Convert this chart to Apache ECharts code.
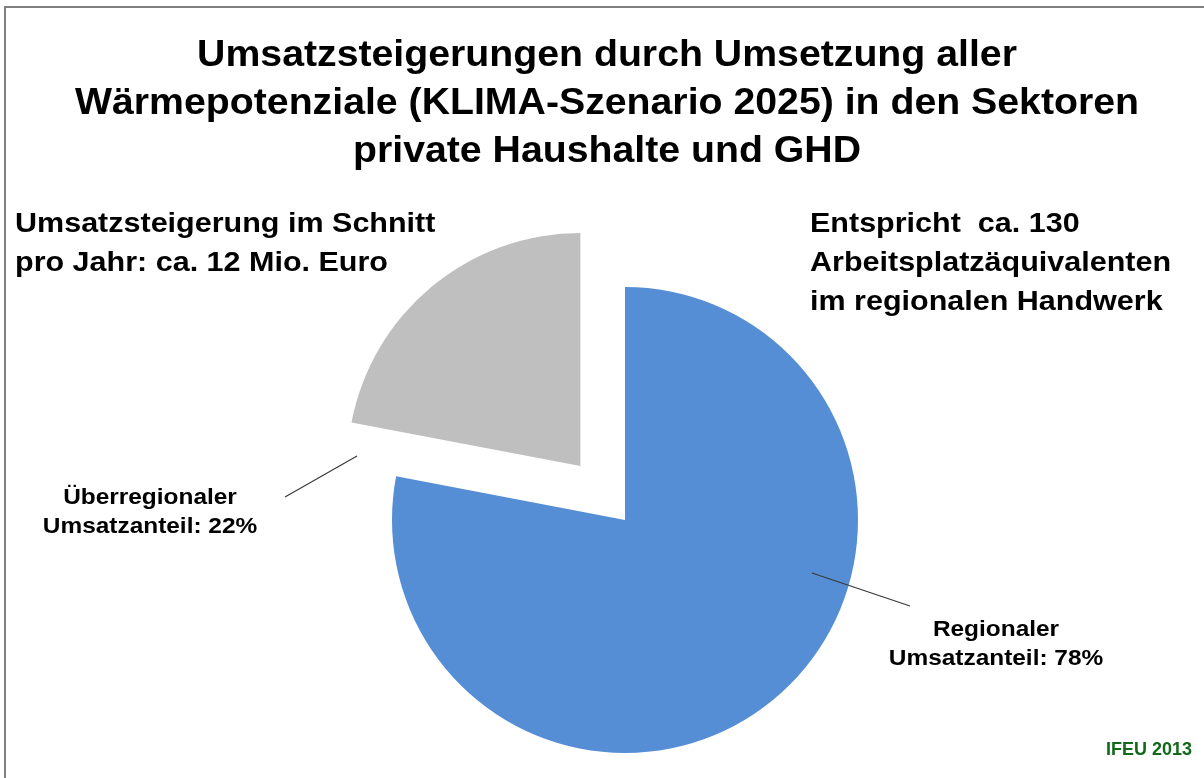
<!DOCTYPE html>
<html>
  <head>
    <meta charset="utf-8" />
    <title>Umsatzsteigerungen</title>
    <script src="https://cdn.jsdelivr.net/npm/echarts@6/dist/echarts.min.js"></script>
    <style>
      body { margin: 0; background: #fff; }
    </style>
  </head>
  <body>
    <div id="main" style="width: 1204px;height:778px;"></div>
    <script type="text/javascript">
      // Daten
      var sliceNames = ['Regionaler', 'Überregionaler'];
      var sliceValues = [78, 22];
      var sliceColors = ['#558ed5', '#bfbfbf'];
      var explodedSlice = [false, true];

      var titleLines = [
        'Umsatzsteigerungen durch Umsetzung aller',
        'Wärmepotenziale (KLIMA-Szenario 2025) in den Sektoren',
        'private Haushalte und GHD'
      ];
      var noteLeft = ['Umsatzsteigerung im Schnitt', 'pro Jahr: ca. 12 Mio. Euro'];
      var noteRight = ['Entspricht  ca. 130', 'Arbeitsplatzäquivalenten', 'im regionalen Handwerk'];
      var sourceText = 'IFEU 2013';

      // Label-Positionen (px, Mitte des Textblocks)
      var labelPos = [[996, 644], [150, 512]];
      // Führungslinien [x1, y1, x2, y2]
      var leaderLines = [[812, 573, 910, 606], [357, 456, 285, 497]];

      var font = "'Liberation Sans', Arial, sans-serif";
      var myChart = echarts.init(document.getElementById('main'));

      var pieData = sliceNames.map(function (n, i) {
        return {
          name: n,
          value: sliceValues[i],
          selected: explodedSlice[i],
          itemStyle: { color: sliceColors[i] }
        };
      });

      var graphics = [
        // Rahmen
        {
          type: 'rect',
          shape: { x: 5, y: 7, width: 1300, height: 900 },
          style: { fill: null, stroke: '#7f7f7f', lineWidth: 2 },
          silent: true
        },
        {
          type: 'text',
          x: 607, y: 104, scaleX: 1.09,
          style: {
            text: titleLines.join('\n'),
            font: 'bold 36px ' + font,
            lineHeight: 48,
            align: 'center',
            verticalAlign: 'middle',
            fill: '#000'
          }
        },
        {
          type: 'text',
          x: 15, y: 244, scaleX: 1.13,
          style: {
            text: noteLeft.join('\n'),
            font: 'bold 27px ' + font,
            lineHeight: 39,
            align: 'left',
            verticalAlign: 'middle',
            fill: '#000'
          }
        },
        {
          type: 'text',
          x: 810, y: 264, scaleX: 1.13,
          style: {
            text: noteRight.join('\n'),
            font: 'bold 27px ' + font,
            lineHeight: 39,
            align: 'left',
            verticalAlign: 'middle',
            fill: '#000'
          }
        },
        {
          type: 'text',
          x: 1192, y: 750,
          style: {
            text: sourceText,
            font: 'bold 18px ' + font,
            align: 'right',
            verticalAlign: 'middle',
            fill: '#12691a'
          }
        }
      ];

      // Beschriftungen der Segmente aus den Daten
      sliceNames.forEach(function (n, i) {
        graphics.push({
          type: 'text',
          x: labelPos[i][0], y: labelPos[i][1], scaleX: 1.11,
          z: 100,
          style: {
            text: n + '\nUmsatzanteil: ' + sliceValues[i] + '%',
            font: 'bold 22px ' + font,
            lineHeight: 29,
            align: 'center',
            verticalAlign: 'middle',
            fill: '#000'
          }
        });
        var l = leaderLines[i];
        graphics.push({
          type: 'line',
          z: 100,
          shape: { x1: l[0], y1: l[1], x2: l[2], y2: l[3] },
          style: { stroke: '#3a3a3a', lineWidth: 1.2 }
        });
      });

      option = {
        animation: false,
        backgroundColor: '#fff',
        graphic: graphics,
        series: [
          {
            type: 'pie',
            z: 1,
            center: [625, 520],
            radius: 233,
            startAngle: 90,
            clockwise: true,
            selectedMode: 'single',
            selectedOffset: 70,
            emphasis: { disabled: true },
            label: { show: false },
            labelLine: { show: false },
            data: pieData
          }
        ]
      };
      myChart.setOption(option);
    </script>
  </body>
</html>
